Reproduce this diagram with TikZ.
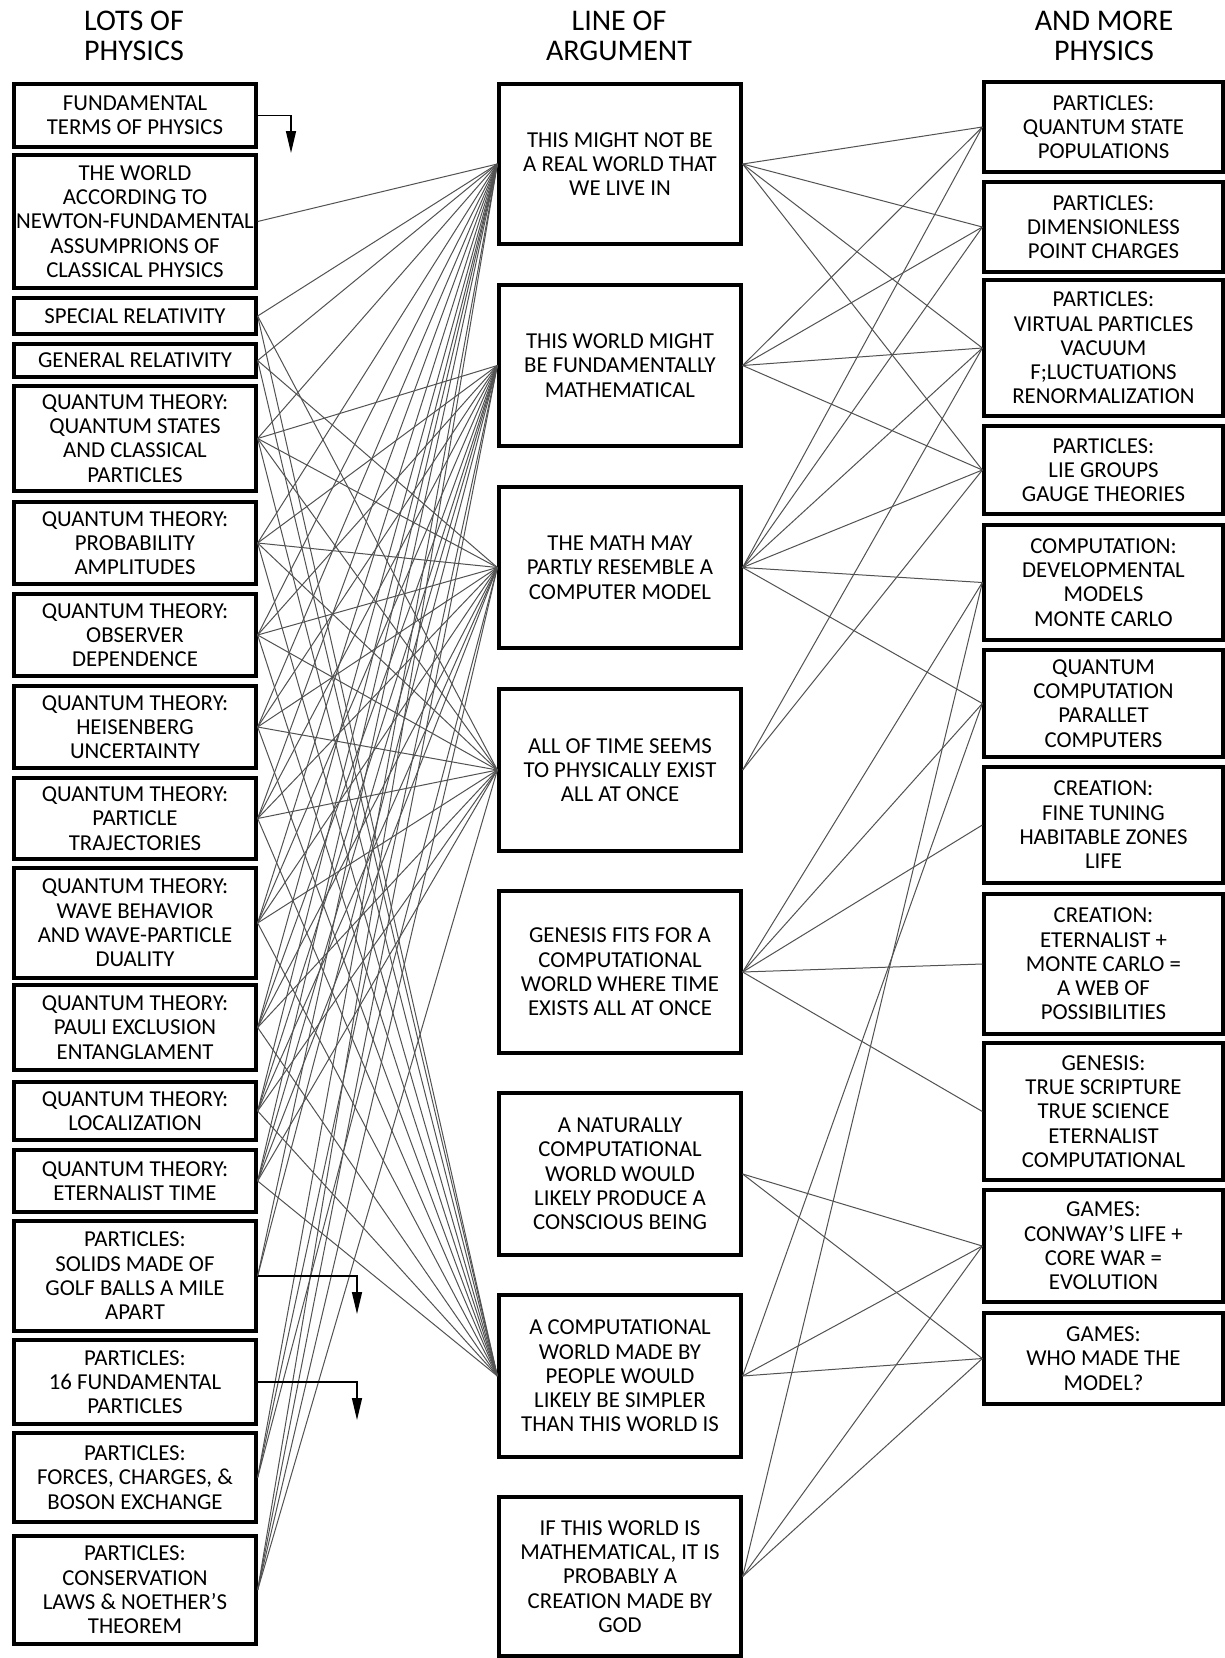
\documentclass[tikz,border=0pt]{standalone}
\usepackage{fontspec}
\setmainfont{Carlito}
\usetikzlibrary{arrows.meta}
\tikzset{
  box/.style={draw, line width=3.3pt, align=center, inner sep=0pt,
    font=\fontsize{22.8}{24.3}\selectfont},
  head/.style={align=center, inner sep=0pt, font=\fontsize{30}{30}\selectfont},
  conn/.style={line width=1pt, black!68},
  elbow/.style={line width=1.5pt, -{Triangle[length=22pt,width=10pt]}}
}
\newcommand\mybox[6]{\node[box, minimum width={(#4-#2)*1pt}, minimum height={(#5-#3)*1pt}] (#1) at ({(#2+#4)/2},{(#3+#5)/2}) {#6};}
\begin{document}
\begin{tikzpicture}[x=1pt,y=-1pt]
\useasboundingbox[fill=white] (0,0) rectangle (1225,1658);
% headers
\node[head] (h1) at (134,36) {LOTS OF\\PHYSICS};
\node[head] (h2) at (619,36) {LINE OF\\ARGUMENT};
\node[head] (h3) at (1104,36) {AND MORE\\PHYSICS};
% left column
\mybox{L1}{14}{84}{256}{147}{FUNDAMENTAL\\TERMS OF PHYSICS}
\mybox{L2}{14}{155}{256}{288}{THE WORLD\\ACCORDING TO\\NEWTON-FUNDAMENTAL\\ASSUMPRIONS OF\\CLASSICAL PHYSICS}
\mybox{L3}{14}{298}{256}{334}{SPECIAL RELATIVITY}
\mybox{L4}{14}{344}{256}{377}{GENERAL RELATIVITY}
\mybox{L5}{14}{386}{256}{491}{QUANTUM THEORY:\\QUANTUM STATES\\AND CLASSICAL\\PARTICLES}
\mybox{L6}{14}{502}{256}{584}{QUANTUM THEORY:\\PROBABILITY\\AMPLITUDES}
\mybox{L7}{14}{594}{256}{676}{QUANTUM THEORY:\\OBSERVER\\DEPENDENCE}
\mybox{L8}{14}{686}{256}{768}{QUANTUM THEORY:\\HEISENBERG\\UNCERTAINTY}
\mybox{L9}{14}{778}{256}{859}{QUANTUM THEORY:\\PARTICLE\\TRAJECTORIES}
\mybox{L10}{14}{868}{256}{978}{QUANTUM THEORY:\\WAVE BEHAVIOR\\AND WAVE-PARTICLE\\DUALITY}
\mybox{L11}{14}{985}{256}{1070}{QUANTUM THEORY:\\PAULI EXCLUSION\\ENTANGLAMENT}
\mybox{L12}{14}{1082}{256}{1140}{QUANTUM THEORY:\\LOCALIZATION}
\mybox{L13}{14}{1150}{256}{1212}{QUANTUM THEORY:\\ETERNALIST TIME}
\mybox{L14}{14}{1221}{256}{1331}{PARTICLES:\\SOLIDS MADE OF\\GOLF BALLS A MILE\\APART}
\mybox{L15}{14}{1340}{256}{1424}{PARTICLES:\\16 FUNDAMENTAL\\PARTICLES}
\mybox{L16}{14}{1433}{256}{1522}{PARTICLES:\\FORCES, CHARGES, \&\\BOSON EXCHANGE}
\mybox{L17}{14}{1536}{256}{1644}{PARTICLES:\\CONSERVATION\\LAWS \& NOETHER'S\\THEOREM}
% middle column
\mybox{M1}{499}{84}{741}{244}{THIS MIGHT NOT BE\\A REAL WORLD THAT\\WE LIVE IN}
\mybox{M2}{499}{285}{741}{446}{THIS WORLD MIGHT\\BE FUNDAMENTALLY\\MATHEMATICAL}
\mybox{M3}{499}{487}{741}{648}{THE MATH MAY\\PARTLY RESEMBLE A\\COMPUTER MODEL}
\mybox{M4}{499}{689}{741}{851}{ALL OF TIME SEEMS\\TO PHYSICALLY EXIST\\ALL AT ONCE}
\mybox{M5}{499}{891}{741}{1053}{GENESIS FITS FOR A\\COMPUTATIONAL\\WORLD WHERE TIME\\EXISTS ALL AT ONCE}
\mybox{M6}{499}{1093}{741}{1255}{A NATURALLY\\COMPUTATIONAL\\WORLD WOULD\\LIKELY PRODUCE A\\CONSCIOUS BEING}
\mybox{M7}{499}{1295}{741}{1457}{A COMPUTATIONAL\\WORLD MADE BY\\PEOPLE WOULD\\LIKELY BE SIMPLER\\THAN THIS WORLD IS}
\mybox{M8}{499}{1497}{741}{1656}{IF THIS WORLD IS\\MATHEMATICAL, IT IS\\PROBABLY A\\CREATION MADE BY\\GOD}
% right column
\mybox{R1}{984}{82}{1223}{172}{PARTICLES:\\QUANTUM STATE\\POPULATIONS}
\mybox{R2}{984}{182}{1223}{272}{PARTICLES:\\DIMENSIONLESS\\POINT CHARGES}
\mybox{R3}{984}{280}{1223}{416}{PARTICLES:\\VIRTUAL PARTICLES\\VACUUM\\F;LUCTUATIONS\\RENORMALIZATION}
\mybox{R4}{984}{426}{1223}{514}{PARTICLES:\\LIE GROUPS\\GAUGE THEORIES}
\mybox{R5}{984}{525}{1223}{640}{COMPUTATION:\\DEVELOPMENTAL\\MODELS\\MONTE CARLO}
\mybox{R6}{984}{650}{1223}{757}{QUANTUM\\COMPUTATION\\PARALLET\\COMPUTERS}
\mybox{R7}{984}{767}{1223}{883}{CREATION:\\FINE TUNING\\HABITABLE ZONES\\LIFE}
\mybox{R8}{984}{894}{1223}{1034}{CREATION:\\ETERNALIST +\\MONTE CARLO =\\A WEB OF\\POSSIBILITIES}
\mybox{R9}{984}{1043}{1223}{1180}{GENESIS:\\TRUE SCRIPTURE\\TRUE SCIENCE\\ETERNALIST\\COMPUTATIONAL}
\mybox{R10}{984}{1190}{1223}{1302}{GAMES:\\CONWAY'S LIFE +\\CORE WAR =\\EVOLUTION}
\mybox{R11}{984}{1313}{1223}{1404}{GAMES:\\WHO MADE THE\\MODEL?}
% left-to-middle connectors
\foreach \l in {L2,L3,L4,L5,L6,L7,L8,L9,L10,L11,L12,L13,L14,L16,L17}
  \draw[conn] (\l.east) -- (M1.west);
\foreach \l in {L5,L6,L7,L8,L9,L10,L11,L12,L13,L14,L16,L17}
  \draw[conn] (\l.east) -- (M2.west);
\foreach \l in {L4,L5,L6,L7,L8,L9,L10,L11,L12,L13,L16,L17}
  \draw[conn] (\l.east) -- (M3.west);
\foreach \l in {L3,L5,L6,L7,L8,L9,L10,L11,L12,L13,L17}
  \draw[conn] (\l.east) -- (M4.west);
\foreach \l in {L3,L4,L5,L6,L7,L8,L9,L10,L11,L12,L13}
  \draw[conn] (\l.east) -- (M7.west);
% middle-to-right connectors
\foreach \m/\r in {M1/R1,M1/R2,M1/R3,M1/R4,
                   M2/R1,M2/R2,M2/R3,M2/R4,
                   M3/R1,M3/R2,M3/R3,M3/R4,M3/R5,M3/R6,
                   M4/R3,M4/R4,
                   M5/R5,M5/R6,M5/R7,M5/R8,M5/R9,
                   M6/R10,M6/R11,
                   M7/R10,M7/R11,M7/R6,
                   M8/R10,M8/R11,M8/R5}
  \draw[conn] (\m.east) -- (\r.west);
% elbow arrows
\coordinate (a1) at (291,153);
\coordinate (a2) at (357,1314);
\coordinate (a3) at (357,1420);
\draw[elbow] (L1.east) -| (a1);
\draw[elbow] (L14.east) -| (a2);
\draw[elbow] (L15.east) -| (a3);
\end{tikzpicture}
\end{document}
